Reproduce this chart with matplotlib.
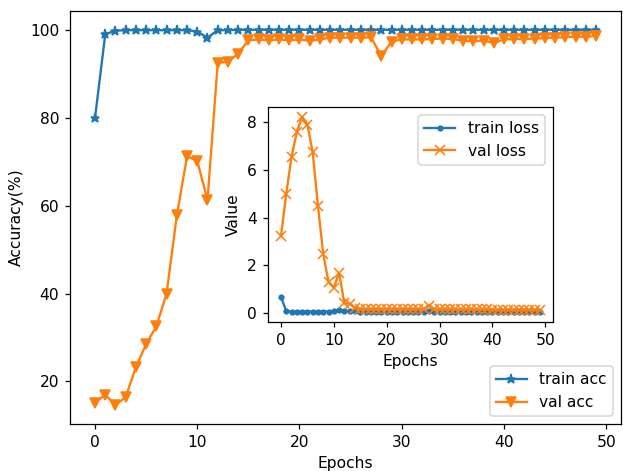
import matplotlib
matplotlib.use("Agg")
import matplotlib.pyplot as plt

epochs = list(range(50))

train_acc = [80.0, 99.0, 99.8, 99.9, 99.9, 99.9, 99.9, 99.9, 99.9, 99.9,
             99.6, 98.2, 99.9, 99.9, 100.0, 100.0, 100.0, 100.0, 100.0, 100.0,
             100.0, 100.0, 100.0, 100.0, 100.0, 100.0, 100.0, 100.0, 100.0, 100.0,
             100.0, 100.0, 100.0, 100.0, 100.0, 100.0, 100.0, 100.0, 100.0, 100.0,
             100.0, 100.0, 100.0, 100.0, 100.0, 100.0, 100.0, 100.0, 100.0, 100.0]

val_acc = [15.2, 17.0, 14.6, 16.5, 23.3, 28.5, 32.6, 40.0, 57.8, 71.2,
           70.2, 61.2, 92.5, 92.7, 94.6, 97.6, 97.8, 97.6, 97.8, 97.6,
           97.8, 97.5, 97.8, 98.2, 98.2, 98.2, 98.2, 98.3, 94.0, 97.3,
           97.8, 97.8, 97.8, 97.9, 98.0, 97.9, 97.5, 97.4, 97.5, 97.0,
           97.8, 97.9, 97.9, 98.0, 98.1, 98.2, 98.3, 98.4, 98.4, 98.6]

train_loss = [0.66, 0.07, 0.05, 0.05, 0.05, 0.05, 0.05, 0.05, 0.05, 0.05,
              0.06, 0.12, 0.08, 0.07, 0.06, 0.04, 0.03, 0.03, 0.03, 0.03,
              0.03, 0.03, 0.03, 0.03, 0.03, 0.03, 0.03, 0.03, 0.08, 0.03,
              0.02, 0.02, 0.02, 0.02, 0.02, 0.02, 0.02, 0.02, 0.02, 0.02,
              0.02, 0.02, 0.02, 0.02, 0.02, 0.02, 0.02, 0.02, 0.02, 0.02]

val_loss = [3.22, 5.0, 6.55, 7.6, 8.24, 7.91, 6.75, 4.48, 2.45, 1.29,
            1.05, 1.68, 0.39, 0.38, 0.21, 0.16, 0.15, 0.15, 0.15, 0.15,
            0.15, 0.15, 0.15, 0.15, 0.15, 0.15, 0.15, 0.15, 0.30, 0.15,
            0.14, 0.14, 0.14, 0.14, 0.14, 0.14, 0.14, 0.14, 0.14, 0.14,
            0.13, 0.13, 0.13, 0.13, 0.13, 0.13, 0.13, 0.13, 0.13, 0.12]

W, H = 623, 471
DPI = 112
fig = plt.figure(figsize=(W / DPI, H / DPI), dpi=DPI)

# main accuracy axes
ax = fig.add_axes([70 / W, 1 - 424 / H, (621 - 70) / W, (424 - 11) / H])
ax.plot(epochs, train_acc, marker="*", label="train acc")
ax.plot(epochs, val_acc, marker="v", markersize=7, label="val acc")
ax.set_xlabel("Epochs")
ax.set_ylabel("Accuracy(%)")
ax.set_xticks([0, 10, 20, 30, 40, 50])
ax.set_yticks([20, 40, 60, 80, 100])
ax.legend(loc="lower right")

# inset loss axes
ins = fig.add_axes([268 / W, 1 - 322 / H, (553 - 268) / W, (322 - 107) / H])
ins.plot(epochs, train_loss, marker=".", label="train loss")
ins.plot(epochs, val_loss, marker="x", label="val loss")
ins.set_xlabel("Epochs")
ins.set_ylabel("Value")
ins.set_xticks([0, 10, 20, 30, 40, 50])
ins.set_yticks([0, 2, 4, 6, 8])
ins.legend(loc="upper right")

fig.savefig("out.png", dpi=DPI)
